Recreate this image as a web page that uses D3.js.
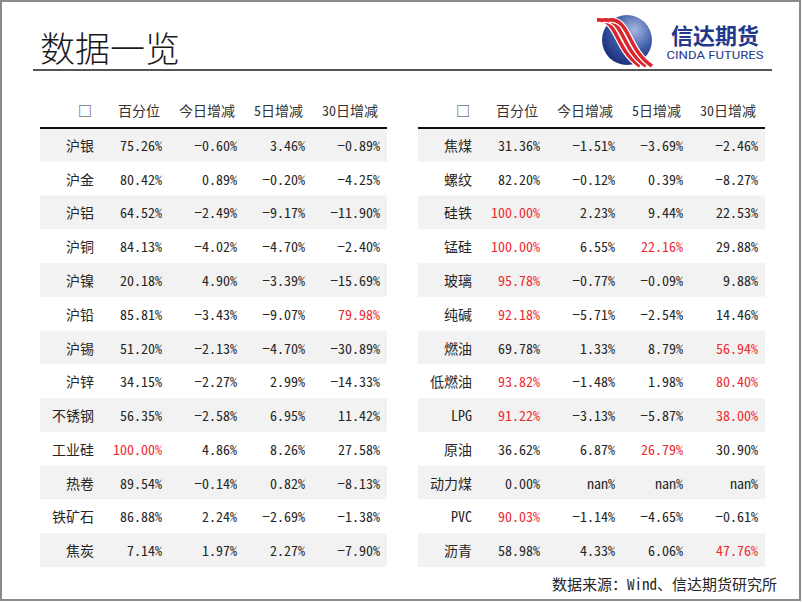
<!DOCTYPE html>
<html>
  <head>
    <meta charset="utf-8">
    <title>数据一览</title>
    <script src="https://cdn.jsdelivr.net/npm/d3@7/dist/d3.min.js"></script>
    <style>
      body { margin: 0; background: #fff; }
      svg text { font-family: "Noto Sans CJK SC", sans-serif; font-feature-settings: "hwid" 1; }
    </style>
  </head>
  <body>
    <script>

      // left table
      var leftNames = ["沪银","沪金","沪铝","沪铜","沪镍","沪铅","沪锡","沪锌","不锈钢","工业硅","热卷","铁矿石","焦炭"];
      var leftPct   = [75.26, 80.42, 64.52, 84.13, 20.18, 85.81, 51.20, 34.15, 56.35, 100.00, 89.54, 86.88, 7.14];
      var leftD1    = [-0.60, 0.89, -2.49, -4.02, 4.90, -3.43, -2.13, -2.27, -2.58, 4.86, -0.14, 2.24, 1.97];
      var leftD5    = [3.46, -0.20, -9.17, -4.70, -3.39, -9.07, -4.70, 2.99, 6.95, 8.26, 0.82, -2.69, 2.27];
      var leftD30   = [-0.89, -4.25, -11.90, -2.40, -15.69, 79.98, -30.89, -14.33, 11.42, 27.58, -8.13, -1.38, -7.90];

      // right table (null = nan)
      var rightNames = ["焦煤","螺纹","硅铁","锰硅","玻璃","纯碱","燃油","低燃油","LPG","原油","动力煤","PVC","沥青"];
      var rightPct   = [31.36, 82.20, 100.00, 100.00, 95.78, 92.18, 69.78, 93.82, 91.22, 36.62, 0.00, 90.03, 58.98];
      var rightD1    = [-1.51, -0.12, 2.23, 6.55, -0.77, -5.71, 1.33, -1.48, -3.13, 6.87, null, -1.14, 4.33];
      var rightD5    = [-3.69, 0.39, 9.44, 22.16, -0.09, -2.54, 8.79, 1.98, -5.87, 26.79, null, -4.65, 6.06];
      var rightD30   = [-2.46, -8.27, 22.53, 29.88, 9.88, 14.46, 56.94, 80.40, 38.00, 30.90, null, -0.61, 47.76];

      var headers = ["\u25A1", "百分位", "今日增减", "5日增减", "30日增减"];
      var redLimit = [90, 20, 20, 35];   // pct, 今日, 5日, 30日

      var width = 802, height = 602;

      var svg = d3.select("body").append("svg")
                  .attr("width", width)
                  .attr("height", height);

      // frame
      svg.append("rect")
         .attr("x", 1).attr("y", 1)
         .attr("width", width - 3).attr("height", height - 3)
         .attr("fill", "#fff")
         .attr("stroke", "#8a8a8a")
         .attr("stroke-width", 2);

      // title + rule
      svg.append("text")
         .attr("x", 40).attr("y", 46)
         .attr("dominant-baseline", "central")
         .attr("font-size", 35)
         .attr("font-weight", 300)
         .attr("fill", "#1a1a1a")
         .text("数据一览");

      svg.append("line")
         .attr("x1", 33).attr("x2", 772)
         .attr("y1", 70).attr("y2", 70)
         .attr("stroke", "#555")
         .attr("stroke-width", 2);

      // logo
      var defs = svg.append("defs");
      var grad = defs.append("radialGradient").attr("id", "ball")
                     .attr("cx", "65%").attr("cy", "30%").attr("r", "75%");
      grad.append("stop").attr("offset", "0%").attr("stop-color", "#a9b8e0");
      grad.append("stop").attr("offset", "55%").attr("stop-color", "#3c5aa8");
      grad.append("stop").attr("offset", "100%").attr("stop-color", "#1b2f78");

      var logo = svg.append("g");
      logo.append("circle")
          .attr("cx", 627).attr("cy", 40).attr("r", 25)
          .attr("fill", "url(#ball)");

      [0, 1, 2].forEach(function(i) {
        var p = "M" + (597 + i * 6) + ",20 C" + (618 + i * 6) + ",18 " + (615 + i * 6) + ",50 " + (640 + i * 6) + ",66";
        logo.append("path").attr("d", p).attr("fill", "none")
            .attr("stroke", "#fff").attr("stroke-width", 6);
        logo.append("path").attr("d", p).attr("fill", "none")
            .attr("stroke", "#d9252b").attr("stroke-width", 3.6);
      });

      svg.append("text")
         .attr("x", 715).attr("y", 34)
         .attr("text-anchor", "middle")
         .attr("dominant-baseline", "central")
         .attr("font-size", 22)
         .attr("font-weight", 700)
         .attr("fill", "#23388a")
         .text("信达期货");

      svg.append("text")
         .attr("x", 715).attr("y", 55)
         .attr("text-anchor", "middle")
         .attr("dominant-baseline", "central")
         .attr("font-size", 11)
         .attr("textLength", 97)
         .attr("lengthAdjust", "spacingAndGlyphs")
         .attr("fill", "#23388a")
         .style("font-family", "Roboto, 'Liberation Sans', sans-serif")
         .text("CINDA FUTURES");

      // tables
      var rowScale = d3.scaleBand()
                       .domain(d3.range(leftNames.length))
                       .range([128, 567]);

      var colScale = d3.scaleOrdinal()
                       .domain([0, 1, 2, 3, 4])
                       .range([54, 122, 197, 265, 340]);

      var fmt = d3.format(".2f");
      function cell(v) { return v === null ? "nan%" : fmt(v) + "%"; }

      function drawTable(x0, names, pct, d1, d5, d30) {
        var g = svg.append("g").attr("transform", "translate(" + x0 + ",0)");
        var w = 347;

        g.selectAll("rect.band")
         .data(names)
         .enter()
         .append("rect")
         .attr("class", "band")
         .attr("x", 0)
         .attr("y", function(d, i) { return rowScale(i); })
         .attr("width", w)
         .attr("height", rowScale.bandwidth())
         .attr("fill", function(d, i) { return i % 2 === 0 ? "#f2f2f2" : "#fff"; });

        g.selectAll("text.head")
         .data(headers)
         .enter()
         .append("text")
         .attr("class", "head")
         .attr("x", function(d, i) { return i === 0 ? 45 : colScale(i) - 2; })
         .attr("y", 110)
         .attr("text-anchor", function(d, i) { return i === 0 ? "middle" : "end"; })
         .attr("dominant-baseline", "central")
         .attr("font-size", 14)
         .attr("fill", "#333")
         .text(function(d) { return d; });

        g.append("line")
         .attr("x1", 0).attr("x2", w)
         .attr("y1", 128).attr("y2", 128)
         .attr("stroke", "#111")
         .attr("stroke-width", 2);

        var rows = names.map(function(n, i) { return [n, pct[i], d1[i], d5[i], d30[i]]; });

        var row = g.selectAll("g.row")
                   .data(rows)
                   .enter()
                   .append("g")
                   .attr("class", "row")
                   .attr("transform", function(d, i) { return "translate(0," + (rowScale(i) + rowScale.bandwidth() / 2) + ")"; });

        row.selectAll("text")
           .data(function(d) { return d; })
           .enter()
           .append("text")
           .attr("x", function(d, j) { return colScale(j); })
           .attr("text-anchor", "end")
           .attr("dominant-baseline", "central")
           .attr("font-size", 14)
           .attr("fill", function(d, j) {
             if (j === 0 || d === null) return "#262626";
             return d >= redLimit[j - 1] ? "#ee2a2f" : "#262626";
           })
           .text(function(d, j) { return j === 0 ? d : cell(d); });
      }

      drawTable(40, leftNames, leftPct, leftD1, leftD5, leftD30);
      drawTable(418, rightNames, rightPct, rightD1, rightD5, rightD30);

      // source
      svg.append("text")
         .attr("x", 777).attr("y", 583)
         .attr("text-anchor", "end")
         .attr("dominant-baseline", "central")
         .attr("font-size", 15)
         .attr("fill", "#262626")
         .text("数据来源：Wind、信达期货研究所");

    </script>
  </body>
</html>
